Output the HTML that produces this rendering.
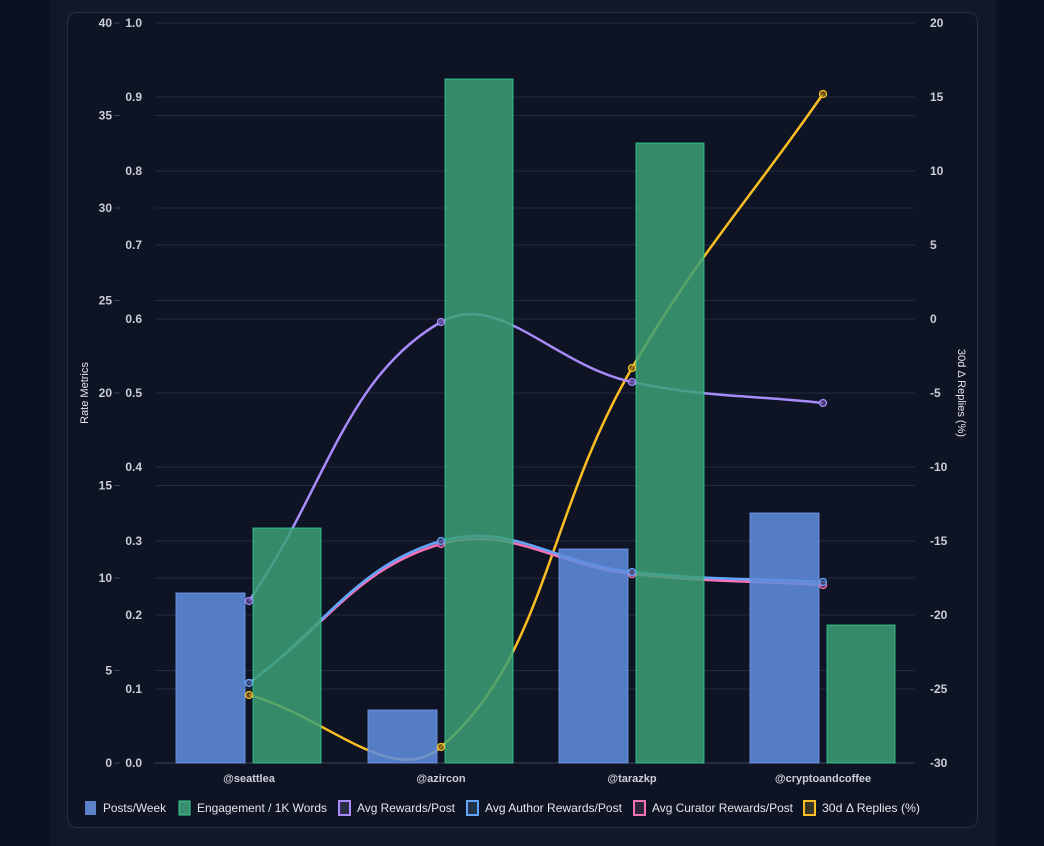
<!DOCTYPE html>
<html><head><meta charset="utf-8"><style>
html,body{margin:0;padding:0;width:1044px;height:846px;overflow:hidden;background:#0a1124;font-family:"Liberation Sans",sans-serif}
#panel{position:absolute;left:50px;top:0;width:946px;height:846px;background:#111828}
#card{position:absolute;left:67px;top:12px;width:911px;height:816px;border:1px solid #262e40;border-radius:10px;background:#0f1424;box-sizing:border-box}
svg{position:absolute;left:0;top:0}
text{font-family:"Liberation Sans",sans-serif}
</style></head><body>
<div id="panel"></div><div id="card"></div>
<svg id="s" width="1044" height="846" xmlns="http://www.w3.org/2000/svg">
<g id="grid" stroke="#222a3b" stroke-width="1"></g>
<g id="lines" fill="none" stroke-width="2.5"></g>
<g id="bars"></g>
<g id="pts"></g>
<g id="labels" font-size="12" fill="#c9ced8" font-weight="bold"></g>
<text x="88" y="393" font-size="11" fill="#e5e7eb" text-anchor="middle" transform="rotate(-90 88 393)">Rate Metrics</text>
<text x="958" y="393" font-size="11" fill="#e5e7eb" text-anchor="middle" transform="rotate(90 958 393)">30d Δ Replies (%)</text>
<g font-size="11" fill="#c9ced8" font-weight="bold" text-anchor="middle">
<text x="249" y="782">@seattlea</text><text x="441" y="782">@azircon</text><text x="632" y="782">@tarazkp</text><text x="823" y="782">@cryptoandcoffee</text>
</g>
<g font-size="12" fill="#e5e7eb">
<rect x="85" y="801" width="11" height="14" fill="#5b83c9"/><text x="103" y="812" textLength="63" lengthAdjust="spacingAndGlyphs">Posts/Week</text>
<rect x="179" y="801" width="11" height="14" fill="#3a8f6e" stroke="#34d399" stroke-width="1"/><text x="197" y="812" textLength="130" lengthAdjust="spacingAndGlyphs">Engagement / 1K Words</text>
<rect x="339" y="801" width="11" height="14" fill="#2a2f48" stroke="#a78bfa" stroke-width="2"/><text x="357" y="812" textLength="98" lengthAdjust="spacingAndGlyphs">Avg Rewards/Post</text>
<rect x="467" y="801" width="11" height="14" fill="#22304a" stroke="#60a5fa" stroke-width="2"/><text x="485" y="812" textLength="137" lengthAdjust="spacingAndGlyphs">Avg Author Rewards/Post</text>
<rect x="634" y="801" width="11" height="14" fill="#2e2638" stroke="#f472b6" stroke-width="2"/><text x="652" y="812" textLength="141" lengthAdjust="spacingAndGlyphs">Avg Curator Rewards/Post</text>
<rect x="804" y="801" width="11" height="14" fill="#3a3424" stroke="#fbbf24" stroke-width="2"/><text x="822" y="812" textLength="98" lengthAdjust="spacingAndGlyphs">30d Δ Replies (%)</text>
</g>
</svg>
<script>
var NS="http://www.w3.org/2000/svg";
function el(p,t,a){var e=document.createElementNS(NS,t);for(var k in a)e.setAttribute(k,a[k]);document.getElementById(p).appendChild(e);return e;}
var T0=23,BOT=763,L=155,R=915;
for(var i=0;i<=10;i++){var y=T0+74*i;el('grid','line',{x1:L,x2:R,y1:y,y2:y});
 var t=el('labels','text',{x:142,y:y+4,'text-anchor':'end'});t.textContent=(1-i/10).toFixed(1);
 var t2=el('labels','text',{x:930,y:y+4,'text-anchor':'start'});t2.textContent=(20-5*i);}
for(var i=0;i<=8;i++){var y=T0+92.5*i;el('grid','line',{x1:L,x2:R,y1:y,y2:y});
 el('labels','line',{x1:114,x2:120,y1:y,y2:y,stroke:'#3a4253'});
 var t=el('labels','text',{x:112,y:y+4,'text-anchor':'end'});t.textContent=(40-5*i);}
el('grid','line',{x1:L,x2:R,y1:BOT,y2:BOT,stroke:'#3a4253'});
function path(p,tn){var d='M'+p[0][0]+','+p[0][1];var cps=[];
 for(var i=0;i<p.length;i++){var pr=p[i-1]||p[i],c=p[i],nx=p[i+1]||p[i];
  var d01=Math.hypot(c[0]-pr[0],c[1]-pr[1]),d12=Math.hypot(nx[0]-c[0],nx[1]-c[1]);
  var s01=d01/(d01+d12)||0,s12=d12/(d01+d12)||0;var fa=tn*s01,fb=tn*s12;
  cps.push([[c[0]-fa*(nx[0]-pr[0]),c[1]-fa*(nx[1]-pr[1])],[c[0]+fb*(nx[0]-pr[0]),c[1]+fb*(nx[1]-pr[1])]]);}
 for(var i=1;i<p.length;i++){d+=' C'+cps[i-1][1]+' '+cps[i][0]+' '+p[i];}return d;}
var xs=[249,441,632,823];
var series=[
 ['#fbbf24','rgba(120,100,30,0.7)',[695,747,368,94]],
 ['#f472b6','rgba(120,50,90,0.7)',[683,544,574,585]],
 ['#60a5fa','rgba(50,80,130,0.7)',[683,541,572,582]],
 ['#a78bfa','rgba(90,70,140,0.7)',[601,322,382,403]]];
series.forEach(function(s){var p=xs.map(function(x,i){return [x,s[2][i]];});
 el('lines','path',{d:path(p,0.4),stroke:s[0]});
 p.forEach(function(q){el('pts','circle',{cx:q[0],cy:q[1],r:3.5,fill:s[1],stroke:s[0],'stroke-width':1.3});});});
var blue=[593,710,549,513],green=[528,79,143,625];
xs.forEach(function(x,i){
 el('bars','rect',{x:x-73,y:blue[i],width:69,height:BOT-blue[i],fill:'rgba(96,140,220,0.88)',stroke:'rgba(110,150,230,0.9)','stroke-width':1});
 el('bars','rect',{x:x+4,y:green[i],width:68,height:BOT-green[i],fill:'rgba(60,160,118,0.85)',stroke:'rgba(52,211,153,0.8)','stroke-width':1});});
</script>
</body></html>
